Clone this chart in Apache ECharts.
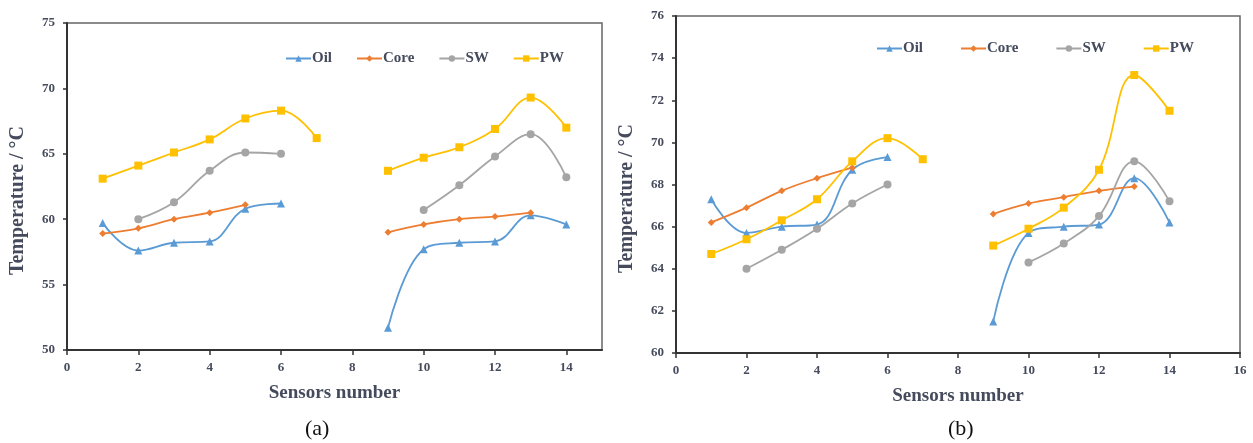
<!DOCTYPE html>
<html>
<head>
<meta charset="utf-8">
<script src="https://cdn.jsdelivr.net/npm/echarts@6/dist/echarts.min.js"></script>
<style>
  html, body { margin: 0; padding: 0; background: #fff; }
  #chart { width: 1253px; height: 443px; }
</style>
</head>
<body>
<div id="chart"></div>
<script>
// sensor positions (no sensor 8 reading)
const sensors = [1, 2, 3, 4, 5, 6, 7, 8, 9, 10, 11, 12, 13, 14];

// panel (a)
const oilA = [59.7, 57.6, 58.2, 58.3, 60.8, 61.2, null, null, 51.7, 57.7, 58.2, 58.3, 60.3, 59.6];
const coreA = [58.9, 59.3, 60.0, 60.5, 61.1, null, null, null, 59.0, 59.6, 60.0, 60.2, 60.5, null];
const swA = [null, 60.0, 61.3, 63.7, 65.1, 65.0, null, null, null, 60.7, 62.6, 64.8, 66.5, 63.2];
const pwA = [63.1, 64.1, 65.1, 66.1, 67.7, 68.3, 66.2, null, 63.7, 64.7, 65.5, 66.9, 69.3, 67.0];

// panel (b)
const oilB = [67.3, 65.7, 66.0, 66.1, 68.7, 69.3, null, null, 61.5, 65.7, 66.0, 66.1, 68.3, 66.2];
const coreB = [66.2, 66.9, 67.7, 68.3, 68.8, null, null, null, 66.6, 67.1, 67.4, 67.7, 67.9, null];
const swB = [null, 64.0, 64.9, 65.9, 67.1, 68.0, null, null, null, 64.3, 65.2, 66.5, 69.1, 67.2];
const pwB = [64.7, 65.4, 66.3, 67.3, 69.1, 70.2, 69.2, null, 65.1, 65.9, 66.9, 68.7, 73.2, 71.5];

const names = ["Oil", "Core", "SW", "PW"];
const colors = ["#5b9bd5", "#ed7d31", "#a5a5a5", "#ffc000"];
const symbols = ["triangle", "diamond", "circle", "rect"];
const symbolSizes = [8, 7, 8, 8];

const font = "Liberation Serif";
const textColor = "#454b5c";

function pairs(vals) {
  return sensors.map((s, i) => [s, vals[i] == null ? "-" : vals[i]]);
}

function makeSeries(idx, list) {
  return list.map((vals, k) => ({
    name: names[k],
    type: "line",
    xAxisIndex: idx,
    yAxisIndex: idx,
    data: pairs(vals),
    smooth: 0.4,
    connectNulls: false,
    symbol: symbols[k],
    symbolSize: symbolSizes[k],
    showAllSymbol: true,
    itemStyle: { color: colors[k] },
    lineStyle: { color: colors[k], width: 1.8 },
  }));
}

function xAxis(idx, max) {
  return {
    type: "value",
    gridIndex: idx,
    min: 0,
    max: max,
    interval: 2,
    name: "Sensors number",
    nameLocation: "middle",
    nameGap: 34,
    nameTextStyle: { fontFamily: font, fontWeight: "bold", fontSize: 19, color: textColor },
    axisLine: { lineStyle: { color: "#333", width: 2 } },
    axisTick: { show: true, length: 5, lineStyle: { color: "#333", width: 1.5 } },
    axisLabel: { showMaxLabel: max % 2 === 0, fontFamily: font, fontWeight: "bold", fontSize: 13, color: textColor, margin: 11 },
    splitLine: { show: false },
  };
}

function yAxis(idx, min, max, interval) {
  return {
    type: "value",
    gridIndex: idx,
    min: min,
    max: max,
    interval: interval,
    name: "Temperature / °C",
    nameLocation: "middle",
    nameGap: 39,
    nameTextStyle: { fontFamily: font, fontWeight: "bold", fontSize: 20, color: textColor, padding: [0, 28, 0, 0] },
    axisLine: { show: true, lineStyle: { color: "#333", width: 2 } },
    axisTick: { show: true, length: 4, lineStyle: { color: "#333", width: 1.5 } },
    axisLabel: { fontFamily: font, fontWeight: "bold", fontSize: 13, color: textColor, margin: 12 },
    splitLine: { show: false },
  };
}

function legend(left, top, gap) {
  return {
    left: left,
    top: top,
    itemWidth: 25,
    itemHeight: 8,
    itemGap: gap,
    data: names,
    textStyle: { fontFamily: font, fontWeight: "bold", fontSize: 15, color: textColor, padding: [0, 0, 0, -4] },
  };
}

const chart = echarts.init(document.getElementById("chart"));
chart.setOption({
  animation: false,
  backgroundColor: "#fff",
  grid: [
    { left: 67, top: 23, width: 535, height: 327, show: true, borderColor: "#666", borderWidth: 1.5 },
    { left: 676, top: 16, width: 564, height: 337, show: true, borderColor: "#666", borderWidth: 1.5 },
  ],
  xAxis: [xAxis(0, 15), xAxis(1, 16)],
  yAxis: [yAxis(0, 50, 75, 5), yAxis(1, 60, 76, 2)],
  legend: [legend(280, 46, 24), legend(871, 36, 37)],
  series: makeSeries(0, [oilA, coreA, swA, pwA]).concat(makeSeries(1, [oilB, coreB, swB, pwB])),
  graphic: [
    { type: "text", left: 305, top: 418, style: { text: "(a)", font: "22px 'Liberation Serif'", fill: "#111" } },
    { type: "text", left: 948, top: 418, style: { text: "(b)", font: "22px 'Liberation Serif'", fill: "#111" } },
  ],
});
</script>
</body>
</html>
